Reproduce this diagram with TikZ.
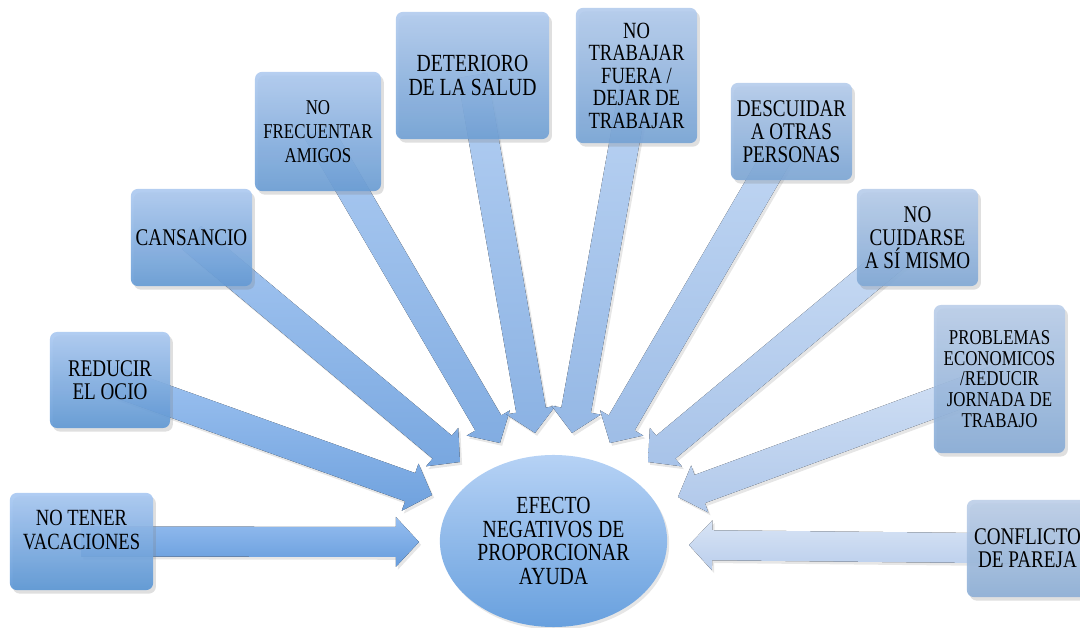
\documentclass[tikz,border=0pt]{standalone}
\usepackage{fontspec}
\setmainfont[FakeStretch=0.8]{Liberation Serif}
\usetikzlibrary{calc,shadows,shapes.geometric,backgrounds}

\definecolor{btopL}{RGB}{168,200,242}
\definecolor{bbotL}{RGB}{88,148,212}
\definecolor{btopR}{RGB}{188,206,232}
\definecolor{bbotR}{RGB}{140,174,214}
\definecolor{atopL}{RGB}{150,190,240}
\definecolor{abotL}{RGB}{102,156,220}
\definecolor{atopR}{RGB}{216,228,245}
\definecolor{abotR}{RGB}{186,206,236}
\definecolor{htop}{RGB}{182,210,245}
\definecolor{hbot}{RGB}{104,160,222}

% block arrow: #1 colour mix, #2 from node, #3 tip
\newcommand{\blockarrow}[3]{%
  \coordinate (hb) at ($(#3)!0.58cm!(#2)$);
  \fill[arr=#1] ($(#2)!0.375cm!90:(#3)$) -- ($(hb)!0.375cm!90:(#3)$)
    -- ($(hb)!0.625cm!90:(#3)$) -- (#3) -- ($(hb)!0.625cm!-90:(#3)$)
    -- ($(hb)!0.375cm!-90:(#3)$) -- ($(#2)!0.375cm!-90:(#3)$) -- cycle;}

\begin{document}
\begin{tikzpicture}[
  x=0.025cm, y=-0.025cm,
  font=\fontsize{17}{16.5}\selectfont,
  cbox/.style={rectangle, rounded corners=5pt, align=center, inner sep=2pt,
               top color=btopL!#1!btopR, bottom color=bbotL!#1!bbotR,
               fill opacity=0.9, text opacity=1,
               drop shadow={opacity=0.25, shadow xshift=2pt, shadow yshift=-2.5pt}},
  arr/.style={top color=atopL!#1!atopR, bottom color=abotL!#1!abotR,
              drop shadow={opacity=0.2, shadow xshift=1.5pt, shadow yshift=-2pt}},
  hub/.style={ellipse, align=center, inner sep=0pt, top color=htop, bottom color=hbot,
              drop shadow={opacity=0.2, shadow xshift=1.5pt, shadow yshift=-2pt}},
]
\useasboundingbox (0,0) rectangle (1080,628);
% centre
\node[hub, minimum width=5.68cm, minimum height=4.3cm, font=\fontsize{17.5}{16.8}\selectfont]
  (efecto) at (553.5,541) {EFECTO\\NEGATIVOS DE\\PROPORCIONAR\\AYUDA};
% left side
\node[cbox=100, minimum width=3.58cm, minimum height=2.43cm, font=\fontsize{16.5}{17}\selectfont]
  (vac) at (81.5,541.5) {NO TENER\\VACACIONES\\\mbox{}};
\node[cbox=89, minimum width=3.0cm, minimum height=2.4cm] (ocio) at (110,380)
  {REDUCIR\\EL OCIO};
\node[cbox=78, minimum width=3.03cm, minimum height=2.43cm] (cans) at (191.5,237.5)
  {CANSANCIO};
\node[cbox=67, minimum width=3.15cm, minimum height=2.98cm, font=\fontsize{15}{17}\selectfont]
  (amig) at (318,131.5) {NO\\FRECUENTAR\\AMIGOS};
% top
\node[cbox=56, minimum width=3.83cm, minimum height=3.18cm, font=\fontsize{17.5}{17.5}\selectfont]
  (salud) at (472.5,75.5) {DETERIORO\\DE LA SALUD};
\node[cbox=44, minimum width=3.03cm, minimum height=3.38cm, font=\fontsize{16.5}{16}\selectfont]
  (trab) at (636.5,75.5) {NO\\TRABAJAR\\FUERA /\\DEJAR DE\\TRABAJAR};
% right side
\node[cbox=33, minimum width=3.03cm, minimum height=2.43cm] (pers) at (791.5,131.5)
  {DESCUIDAR\\A OTRAS\\PERSONAS};
\node[cbox=22, minimum width=3.03cm, minimum height=2.43cm] (mismo) at (917.5,237.5)
  {NO\\CUIDARSE\\A SÍ MISMO};
\node[cbox=11, minimum width=3.28cm, minimum height=3.7cm, font=\fontsize{15}{14.8}\selectfont]
  (econ) at (999.5,379) {PROBLEMAS\\ECONOMICOS\\/REDUCIR\\JORNADA DE\\TRABAJO};
\node[cbox=0, minimum width=3.03cm, minimum height=2.43cm] (pareja) at (1027.5,548.5)
  {CONFLICTO\\DE PAREJA};
% arrow tips
\coordinate (tvac) at (419,542);
\coordinate (tocio) at (432,495);
\coordinate (tcans) at (460,462);
\coordinate (tamig) at (500,443);
\coordinate (tsalud) at (535,433);
\coordinate (ttrab) at (572,433);
\coordinate (tpers) at (610,443);
\coordinate (tmismo) at (648,462);
\coordinate (tecon) at (678,497);
\coordinate (tpareja) at (689,545);
% arrows
\begin{scope}[on background layer]
\blockarrow{100}{vac}{tvac}
\blockarrow{89}{ocio}{tocio}
\blockarrow{78}{cans}{tcans}
\blockarrow{67}{amig}{tamig}
\blockarrow{56}{salud}{tsalud}
\blockarrow{44}{trab}{ttrab}
\blockarrow{33}{pers}{tpers}
\blockarrow{22}{mismo}{tmismo}
\blockarrow{11}{econ}{tecon}
\blockarrow{0}{pareja}{tpareja}
\end{scope}
\end{tikzpicture}
\end{document}
